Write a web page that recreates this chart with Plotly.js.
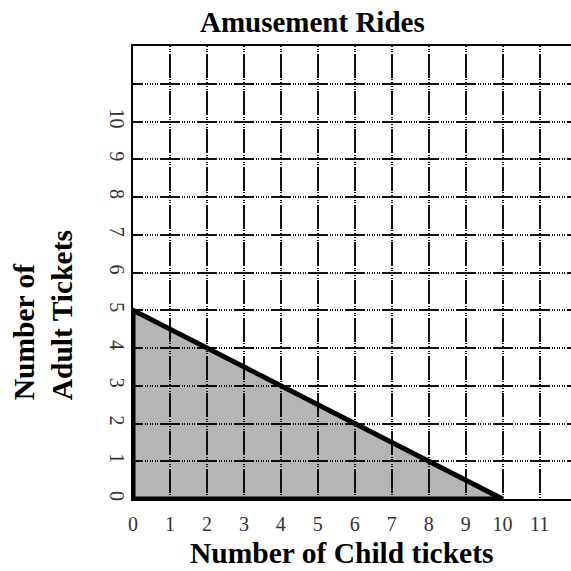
<!DOCTYPE html>
<html>
<head>
<meta charset="utf-8">
<script src="https://cdn.plot.ly/plotly-3.0.1.min.js"></script>
<style>html,body{margin:0;padding:0;background:#fff;}#chart{width:571px;height:571px;}</style>
</head>
<body>
<div id="chart"></div>
<script>
// Boundary line of the shaded region: Number of Child tickets vs Number of Adult Tickets
var childTickets = [0, 10];
var adultTickets = [5, 0];

// Tick values and labels
var xTickVals = [0, 1, 2, 3, 4, 5, 6, 7, 8, 9, 10, 11];
var xTickText = ['0', '1', '2', '3', '4', '5', '6', '7', '8', '9', '10', '11'];
var yTickVals = [0, 1, 2, 3, 4, 5, 6, 7, 8, 9, 10, 11];
var yTickText = ['0', '1', '2', '3', '4', '5', '6', '7', '8', '9', '10', ''];

var serif = '"Liberation Serif", "Times New Roman", serif';

var polyX = [0].concat(childTickets, [0]);
var polyY = [0].concat(adultTickets, [0]);

var traces = [{
  type: 'scatter',
  mode: 'lines',
  x: polyX,
  y: polyY,
  fill: 'toself',
  fillcolor: 'rgba(0,0,0,0.29)',
  line: {color: '#000', width: 5},
  hoverinfo: 'skip',
  showlegend: false
}];

var layout = {
  width: 571,
  height: 571,
  margin: {l: 133, r: 0, t: 46, b: 72},
  paper_bgcolor: '#fff',
  plot_bgcolor: '#fff',
  showlegend: false,
  title: {
    text: '<b>Amusement Rides</b>',
    font: {family: serif, size: 29, color: '#000'},
    x: 0.547, xanchor: 'center', xref: 'container',
    y: 0.962, yanchor: 'middle', yref: 'container'
  },
  xaxis: {
    range: [0, 11.85],
    tickvals: xTickVals,
    ticktext: xTickText,
    tickfont: {family: serif, size: 20, color: '#333'},
    ticks: '',
    ticklabelstandoff: 6,
    showline: true, linecolor: '#000', linewidth: 2, mirror: true,
    showgrid: true, gridcolor: '#111', gridwidth: 2,
    griddash: '1px,1.5px,1px,1.5px,1px,1.5px,24px,1.5px,1px,1.5px,1px,1.25px',
    zeroline: false,
    fixedrange: true
  },
  yaxis: {
    range: [0, 12],
    tickvals: yTickVals,
    ticktext: yTickText,
    tickangle: 90,
    tickfont: {family: serif, size: 20, color: '#333'},
    ticks: 'inside', ticklen: 4, tickcolor: '#000', tickwidth: 1.5,
    ticklabelstandoff: -3,
    showline: true, linecolor: '#000', linewidth: 2,
    showgrid: true, gridcolor: '#111', gridwidth: 2,
    griddash: '10px,1.5px,1px,1.5px,1px,1.5px,1px,1.5px,1px,1.5px,1px,1.5px,1px,1.5px,10px,0.5px',
    zeroline: false,
    fixedrange: true
  },
  annotations: [{
    text: '<b>Number of Child tickets</b>',
    xref: 'paper', yref: 'paper',
    x: 0.475, y: -0.119,
    xanchor: 'center', yanchor: 'middle',
    showarrow: false,
    font: {family: serif, size: 29.5, color: '#000'}
  }, {
    text: '<b>Number of<br>Adult Tickets</b>',
    xref: 'paper', yref: 'paper',
    x: -0.205, y: 0.214,
    xanchor: 'center', yanchor: 'bottom',
    textangle: -90,
    align: 'left',
    showarrow: false,
    font: {family: serif, size: 29.5, color: '#000'}
  }]
};

Plotly.newPlot('chart', traces, layout, {displayModeBar: false, staticPlot: true});
</script>
</body>
</html>
